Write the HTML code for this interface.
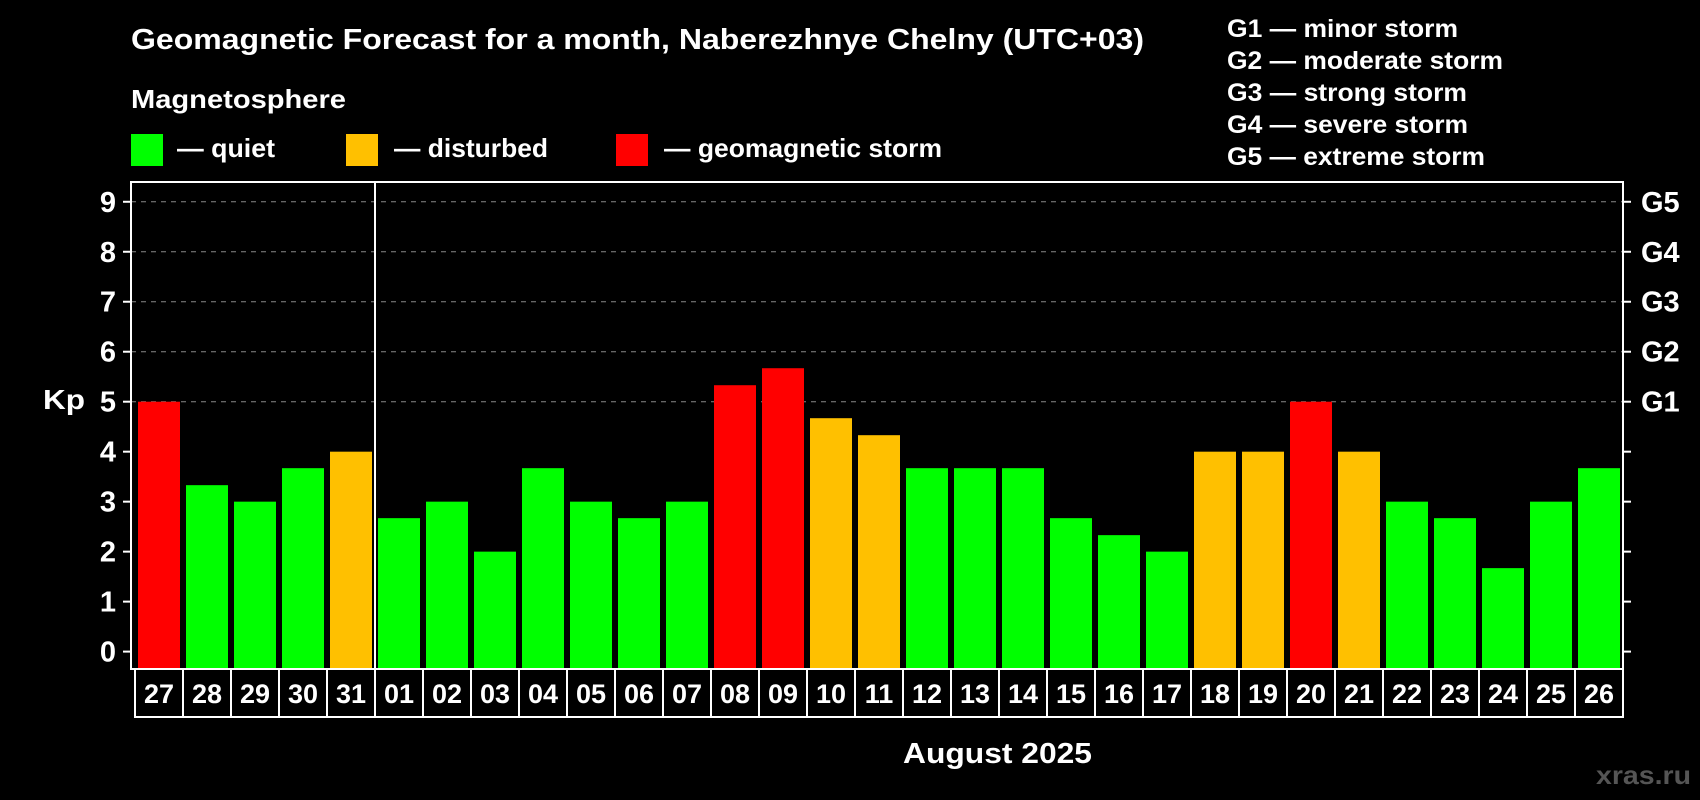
<!DOCTYPE html>
<html><head><meta charset="utf-8"><style>
html,body{margin:0;padding:0;background:#000;}
svg{display:block;font-family:"Liberation Sans",Arial,sans-serif;font-weight:bold;}
</style></head><body>
<svg id="chart" width="1700" height="800" viewBox="0 0 1700 800">
<rect width="1700" height="800" fill="#000"/>
<text x="131" y="49" fill="#fff" font-size="29" textLength="1013" lengthAdjust="spacingAndGlyphs">Geomagnetic Forecast for a month, Naberezhnye Chelny (UTC+03)</text>
<text x="131" y="108" fill="#fff" font-size="26" textLength="215" lengthAdjust="spacingAndGlyphs">Magnetosphere</text>
<g><rect x="131" y="134" width="32" height="32" fill="#00ff00"/><text x="177" y="157" fill="#fff" font-size="26" textLength="98" lengthAdjust="spacingAndGlyphs">— quiet</text></g>
<g><rect x="346" y="134" width="32" height="32" fill="#ffc000"/><text x="394" y="157" fill="#fff" font-size="26" textLength="154" lengthAdjust="spacingAndGlyphs">— disturbed</text></g>
<g><rect x="616" y="134" width="32" height="32" fill="#ff0000"/><text x="664" y="157" fill="#fff" font-size="26" textLength="278" lengthAdjust="spacingAndGlyphs">— geomagnetic storm</text></g>
<g fill="#fff" font-size="25">
<text x="1227" y="37" textLength="231" lengthAdjust="spacingAndGlyphs">G1 — minor storm</text>
<text x="1227" y="69" textLength="276" lengthAdjust="spacingAndGlyphs">G2 — moderate storm</text>
<text x="1227" y="101" textLength="240" lengthAdjust="spacingAndGlyphs">G3 — strong storm</text>
<text x="1227" y="133" textLength="241" lengthAdjust="spacingAndGlyphs">G4 — severe storm</text>
<text x="1227" y="165" textLength="258" lengthAdjust="spacingAndGlyphs">G5 — extreme storm</text>
</g>
<text x="43" y="409" fill="#fff" font-size="28" textLength="42" lengthAdjust="spacingAndGlyphs">Kp</text>
<text x="903" y="763" fill="#fff" font-size="29" textLength="189" lengthAdjust="spacingAndGlyphs">August 2025</text>
<text x="1596" y="784" fill="#555" font-size="26" textLength="95" lengthAdjust="spacingAndGlyphs">xras.ru</text>
<g id="grid"></g><g id="bars"></g><g id="axes"></g>
</svg>
<script>
const days=["27","28","29","30","31","01","02","03","04","05","06","07","08","09","10","11","12","13","14","15","16","17","18","19","20","21","22","23","24","25","26"];
const kp=[5,3.33,3,3.67,4,2.67,3,2,3.67,3,2.67,3,5.33,5.67,4.67,4.33,3.67,3.67,3.67,2.67,2.33,2,4,4,5,4,3,2.67,1.67,3,3.67];
const yTicks=["0","1","2","3","4","5","6","7","8","9"];
const gLabels=["G1","G2","G3","G4","G5"];
const NS="http://www.w3.org/2000/svg";
const L=131,R=1623,T=182,B=669;
const y=v=>651.6-v*49.98;
const x=i=>138+i*48;
function mk(tag,attrs,parent){const e=document.createElementNS(NS,tag);for(const k in attrs)e.setAttribute(k,attrs[k]);parent.appendChild(e);return e;}
const grid=document.getElementById('grid'),bars=document.getElementById('bars'),axes=document.getElementById('axes');
yTicks.forEach((t,i)=>{
  const v=+t,yy=y(v);
  if(v>=5){const g=mk('line',{x1:L,x2:R,y1:yy,y2:yy,stroke:'#888','stroke-dasharray':'5,5','stroke-width':1},grid);
  
  }
  const tl=mk('line',{x1:L-8,x2:L,y1:yy,y2:yy,stroke:'#fff','stroke-width':2},axes);
  
  
  const tr=mk('line',{x1:R,x2:R+8,y1:yy,y2:yy,stroke:'#fff','stroke-width':2},axes);
  
  
  const lb=mk('text',{x:116,y:yy+10,fill:'#fff','font-size':29,'text-anchor':'end'},axes);lb.textContent=t;
  
  
});
gLabels.forEach((g,i)=>{
  const lb=mk('text',{x:1641,y:y(5+i)+10,fill:'#fff','font-size':29},axes);lb.textContent=g;
  
  
});
kp.forEach((v,i)=>{
  const c=v>=5?'#ff0000':(v>=4?'#ffc000':'#00ff00');
  const b=mk('rect',{x:x(i),y:y(v),width:42,height:B-y(v),fill:c},bars);
  
  
  const bx=mk('rect',{x:x(i)-3,y:B,width:48,height:48,fill:'none',stroke:'#fff','stroke-width':2},axes);
  
  
  const t=mk('text',{x:x(i)+21,y:B+34,fill:'#fff','font-size':27,'text-anchor':'middle'},axes);t.textContent=days[i];
  
  
});
const fr=mk('rect',{x:L,y:T,width:R-L,height:B-T,fill:'none',stroke:'#fff','stroke-width':2},axes);


const sep=mk('line',{x1:x(5)-3,x2:x(5)-3,y1:T,y2:B,stroke:'#fff','stroke-width':2},axes);


</script>
</body></html>
